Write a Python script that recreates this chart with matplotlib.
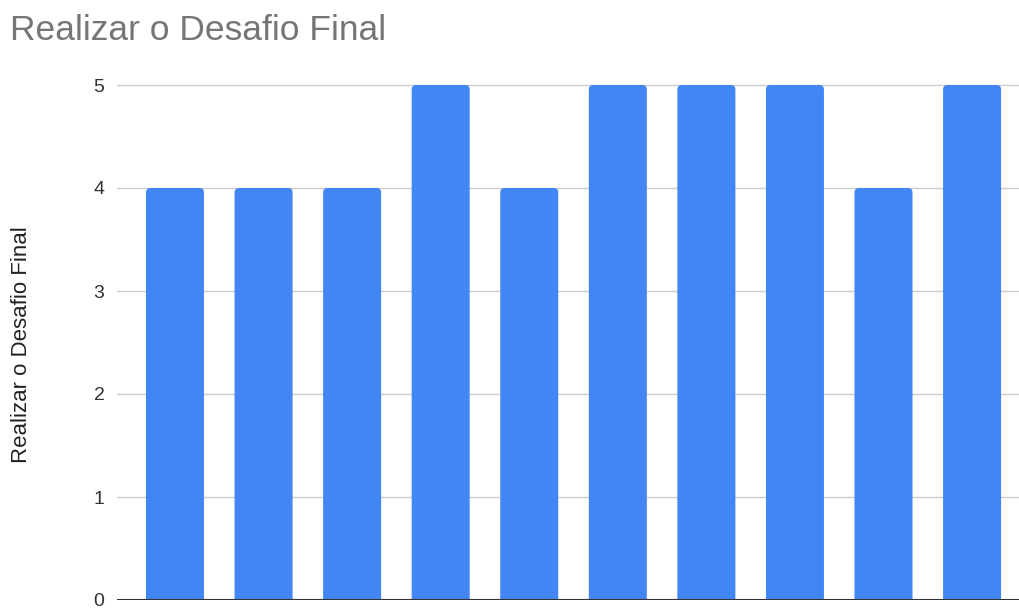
import matplotlib.pyplot as plt
from matplotlib.patches import FancyBboxPatch

# data
categories = [str(i) for i in range(1, 11)]
values = [4, 4, 4, 5, 4, 5, 5, 5, 4, 5]
yticks = [0, 1, 2, 3, 4, 5]

plt.rcParams['font.family'] = ['Liberation Sans', 'DejaVu Sans']

fig = plt.figure(figsize=(10.19, 6.08), dpi=100)
ax = fig.add_axes([117 / 1019, 8 / 608, 1 - 117 / 1019, (600 - 60) / 608])

x = list(range(len(values)))
bars = ax.bar(x, values, width=0.655, color='#4285f4', zorder=3)

ax.set_xlim(-0.655, 9.53)
ax.set_ylim(0, 5 + 25 / 103)

# rounded top corners: replace each bar with a rounded box (bottom clipped by axes)
for b in bars:
    b.set_visible(False)
    bx, bw, bh = b.get_x(), b.get_width(), b.get_height()
    p = FancyBboxPatch((bx, -0.2), bw, bh + 0.2,
                       boxstyle='round,pad=0,rounding_size=0.05',
                       mutation_aspect=88.56 / 103,
                       facecolor='#4285f4', edgecolor='none', zorder=3)
    ax.add_patch(p)

ax.set_yticks(yticks)
ax.set_xticks([])
ax.grid(axis='y', color='#cccccc', linewidth=1, zorder=0)
ax.axhline(0, color='#333333', linewidth=1.5, zorder=4)

for s in ax.spines.values():
    s.set_visible(False)
ax.tick_params(axis='y', length=0, labelsize=14, labelcolor='#333333', pad=9)

ax.set_ylabel('Realizar o Desafio Final', fontsize=16, color='#222222', labelpad=0)
ax.yaxis.set_label_coords(-85 / 902, 0.5 + (600 - 345 - 270) / 540)

fig.text(10 / 1019, 1 - 31 / 608, 'Realizar o Desafio Final', fontsize=25.5,
         color='#757575', va='center', ha='left')

plt.savefig('out.png')
